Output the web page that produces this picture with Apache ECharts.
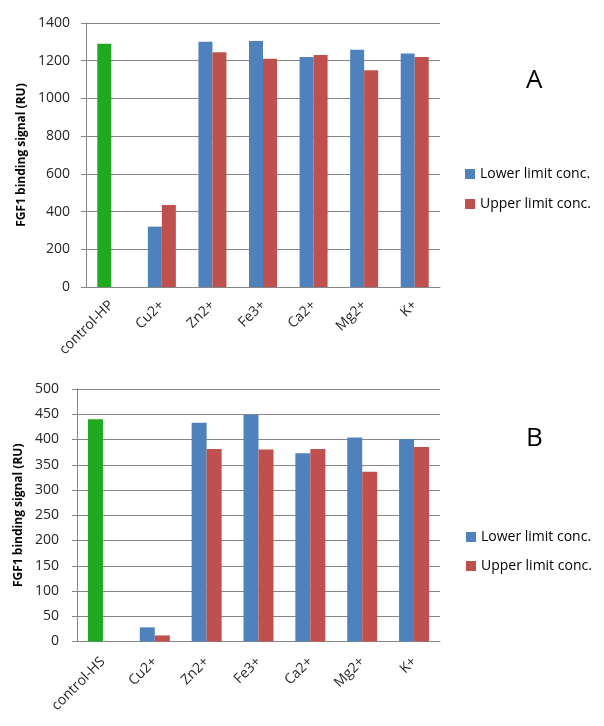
<!DOCTYPE html>
<html>
<head>
<meta charset="utf-8">
<script src="https://cdn.jsdelivr.net/npm/echarts@6/dist/echarts.min.js"></script>
<style>html,body{margin:0;padding:0;background:#fff;}#c{width:604px;height:726px;}</style>
</head>
<body>
<div id="c"></div>
<script>
const catsA = ['control-HP', 'Cu2+', 'Zn2+', 'Fe3+', 'Ca2+', 'Mg2+', 'K+'];
const catsB = ['control-HS', 'Cu2+', 'Zn2+', 'Fe3+', 'Ca2+', 'Mg2+', 'K+'];
const lowerA = [1290, 320, 1300, 1305, 1220, 1258, 1238];
const upperA = [null, 435, 1245, 1210, 1230, 1150, 1220];
const lowerB = [440, 28, 433, 449, 373, 404, 401];
const upperB = [null, 12, 381, 380, 381, 336, 385];
const seriesNames = ['Lower limit conc.', 'Upper limit conc.'];
const panelLabels = ['A', 'B'];

const FONT = 'Open Sans';
const BLUE = '#4F81BD', RED = '#C0504D', GREEN = '#1FA91F';
const AXIS = '#868686', TXT = '#262626';

function withControl(arr) {
  return arr.map((v, i) => i === 0 ? { value: v, itemStyle: { color: GREEN } } : v);
}
function xAxis(cats, gi, margin) {
  return {
    type: 'category', gridIndex: gi, data: cats,
    axisLine: { lineStyle: { color: AXIS } },
    axisTick: { length: 5, lineStyle: { color: AXIS } },
    axisLabel: { rotate: 45, fontFamily: FONT, fontSize: 14, color: TXT, margin: margin, interval: 0 }
  };
}
function yAxis(max, interval, gi, margin) {
  return {
    type: 'value', gridIndex: gi, min: 0, max: max, interval: interval,
    name: 'FGF1 binding signal (RU)', nameLocation: 'middle', nameGap: margin + 32,
    nameTextStyle: { fontFamily: FONT, fontSize: 12, fontWeight: 'bold', color: '#000' },
    axisLine: { show: true, lineStyle: { color: AXIS } },
    axisTick: { show: true, length: 5, lineStyle: { color: AXIS } },
    splitLine: { lineStyle: { color: AXIS } },
    axisLabel: { fontFamily: FONT, fontSize: 14, color: TXT, margin: margin, formatter: v => String(v) }
  };
}
const legendText = { fontFamily: FONT, fontSize: 14, color: '#000' };
const chart = echarts.init(document.getElementById('c'), null, { renderer: 'canvas' });
chart.setOption({
  animation: false,
  backgroundColor: '#fff',
  title: [
    { text: panelLabels[0], left: 521, top: 63, textStyle: { fontFamily: FONT, fontSize: 26, fontWeight: 'normal', color: '#000' } },
    { text: panelLabels[1], left: 521, top: 421, textStyle: { fontFamily: FONT, fontSize: 26, fontWeight: 'normal', color: '#000' } }
  ],
  legend: [
    { data: seriesNames, orient: 'vertical', left: 460, top: 162, itemWidth: 10, itemHeight: 10, itemGap: 16, icon: 'rect', textStyle: legendText },
    { data: seriesNames, orient: 'vertical', left: 461, top: 525, itemWidth: 10, itemHeight: 10, itemGap: 15, icon: 'rect', textStyle: legendText }
  ],
  grid: [
    { left: 86, right: 164, top: 23, height: 264 },
    { left: 77, right: 164, top: 389, height: 252.5 }
  ],
  xAxis: [xAxis(catsA, 0, 16), xAxis(catsB, 1, 18)],
  yAxis: [yAxis(1400, 200, 0, 16), yAxis(500, 50, 1, 18)],
  series: [
    { name: seriesNames[0], type: 'bar', xAxisIndex: 0, yAxisIndex: 0, data: withControl(lowerA), itemStyle: { color: BLUE }, barWidth: 14, barGap: '0%' },
    { name: seriesNames[1], type: 'bar', xAxisIndex: 0, yAxisIndex: 0, data: upperA, itemStyle: { color: RED }, barWidth: 14, barGap: '0%' },
    { name: seriesNames[0], type: 'bar', xAxisIndex: 1, yAxisIndex: 1, data: withControl(lowerB), itemStyle: { color: BLUE }, barWidth: 15, barGap: '0%' },
    { name: seriesNames[1], type: 'bar', xAxisIndex: 1, yAxisIndex: 1, data: upperB, itemStyle: { color: RED }, barWidth: 15, barGap: '0%' }
  ]
});
</script>
</body>
</html>
